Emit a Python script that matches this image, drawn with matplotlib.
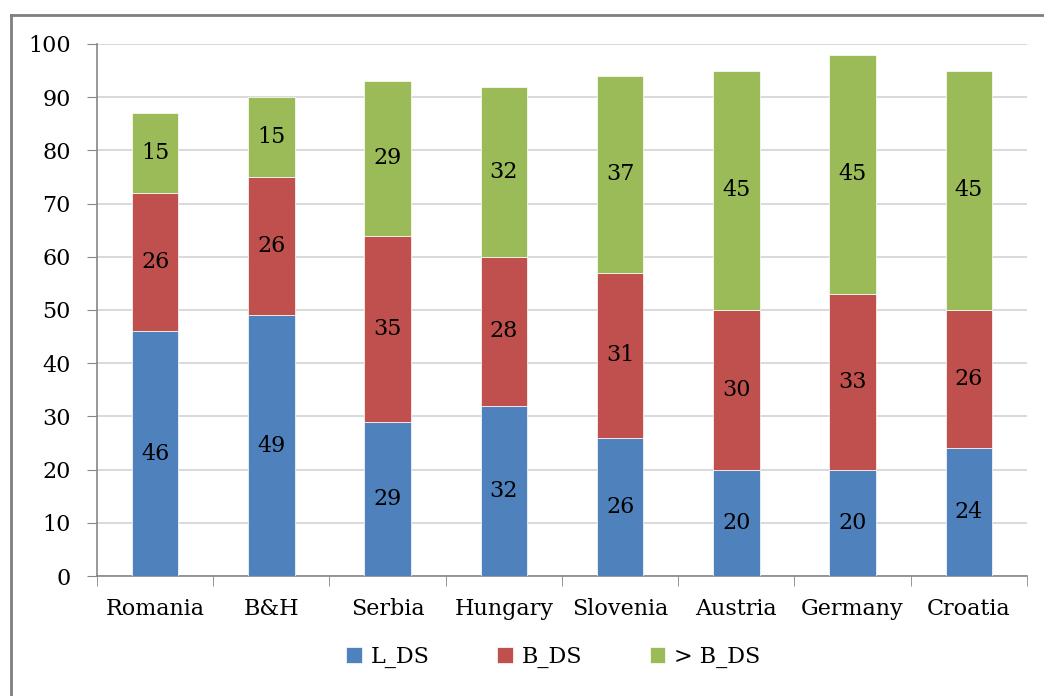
import matplotlib.pyplot as plt
import numpy as np
from matplotlib.lines import Line2D

countries = ['Romania', 'B&H', 'Serbia', 'Hungary', 'Slovenia', 'Austria', 'Germany', 'Croatia']
l_ds = np.array([46, 49, 29, 32, 26, 20, 20, 24])
b_ds = np.array([26, 26, 35, 28, 31, 30, 33, 26])
gt_b_ds = np.array([15, 15, 29, 32, 37, 45, 45, 45])

series = [('L_DS', l_ds, '#4F81BD'), ('B_DS', b_ds, '#C0504D'), ('> B_DS', gt_b_ds, '#9BBB59')]

plt.rcParams['font.family'] = 'DejaVu Serif'
fs = 16

fig = plt.figure(figsize=(10.44, 6.96), dpi=100)
ax = fig.add_axes([0.0929, 0.1724, 0.8908, 0.7644])

x = np.arange(len(countries))
bottom = np.zeros(len(countries))
for name, vals, col in series:
    ax.bar(x, vals, 0.4, bottom=bottom, color=col, label=name,
           edgecolor='white', linewidth=0.5, zorder=3)
    for xi, b, v in zip(x, bottom, vals):
        ax.text(xi, b + v / 2, str(v), ha='center', va='center', fontsize=fs, zorder=4)
    bottom = bottom + vals

ax.set_xlim(-0.5, len(countries) - 0.5)
ax.set_ylim(0, 100)
ax.set_yticks(np.arange(0, 101, 10))
ax.set_xticks(x)
ax.set_xticklabels(countries)
ax.set_xticks(np.arange(-0.5, len(countries)), minor=True)
ax.tick_params(axis='x', which='major', length=0, pad=16, labelsize=fs)
ax.tick_params(axis='x', which='minor', length=7, color='#868686', direction='out')
ax.tick_params(axis='y', length=7, color='#868686', direction='out', pad=12, labelsize=fs)
ax.grid(axis='y', color='#D9D9D9', linewidth=1.4, zorder=0)
for s in ['top', 'right']:
    ax.spines[s].set_visible(False)
for s in ['left', 'bottom']:
    ax.spines[s].set_color('#868686')
    ax.spines[s].set_linewidth(1.2)

fig.legend(loc='center', bbox_to_anchor=(0.530, 0.056), ncol=3, frameon=False,
           fontsize=fs, handlelength=0.7, handleheight=0.7, handletextpad=0.4,
           columnspacing=3.05)

# outer chart frame
fig.add_artist(Line2D([11 / 1044, 11 / 1044], [0, 1 - 15 / 696], transform=fig.transFigure,
                      color='#7F7F7F', linewidth=2))
fig.add_artist(Line2D([11 / 1044, 1], [1 - 15 / 696, 1 - 15 / 696], transform=fig.transFigure,
                      color='#7F7F7F', linewidth=2))

fig.savefig('out.png', dpi=100)
